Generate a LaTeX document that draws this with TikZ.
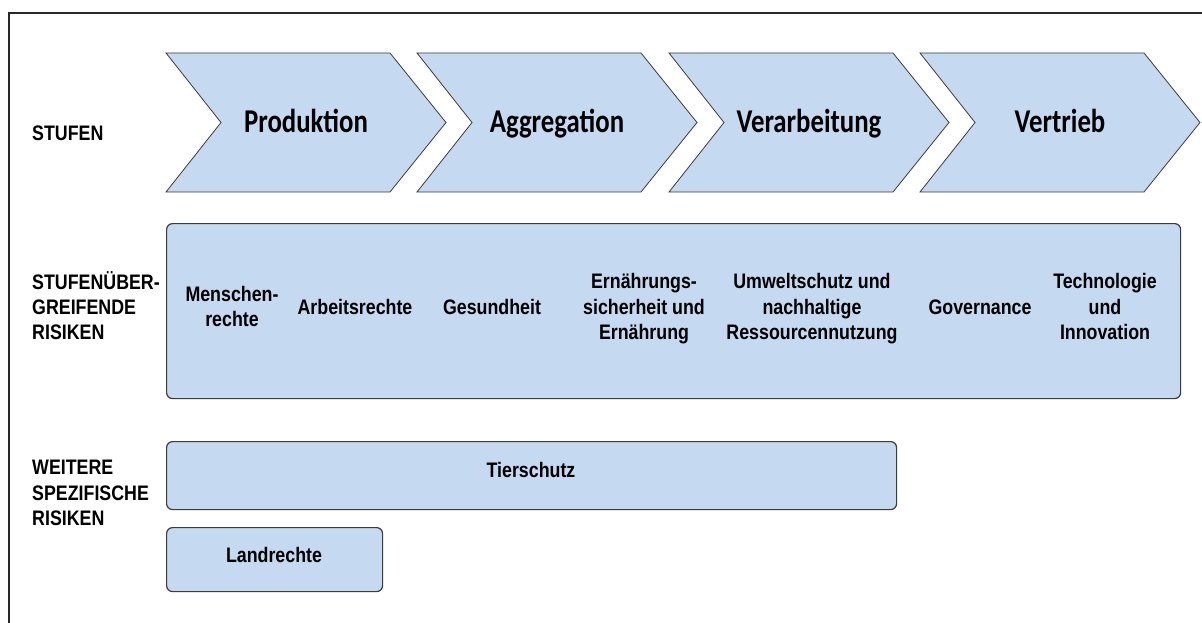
\documentclass[tikz,border=0pt]{standalone}
\usepackage{fontspec}
\usepackage{graphicx}
\newfontfamily\arfont{Liberation Sans}
\newfontfamily\cafont{Carlito}
\definecolor{boxblue}{RGB}{197,217,240}
\definecolor{edgegray}{RGB}{60,60,60}
\definecolor{framegray}{RGB}{40,40,40}
\newcommand{\artext}[1]{\scalebox{1}[1.18]{\arfont\bfseries\fontsize{17.8}{21.2}\selectfont\begin{tabular}{@{}c@{}}#1\end{tabular}}}
\newcommand{\arlabel}[1]{\scalebox{1}[1.18]{\arfont\bfseries\fontsize{17.8}{21.2}\selectfont\begin{tabular}{@{}l@{}}#1\end{tabular}}}
\newcommand{\catext}[1]{\scalebox{1}[1.24]{\cafont\bfseries\fontsize{26.8}{32}\selectfont #1}}
\tikzset{
  chev/.style={fill=boxblue, draw=edgegray, line width=0.8pt, line join=miter},
  riskbox/.style={draw=edgegray, fill=boxblue, line width=1.2pt, rounded corners=6pt, inner sep=0pt, anchor=north west},
  lbl/.style={anchor=west, inner sep=0pt},
  itm/.style={inner sep=0pt},
  frameline/.style={draw=framegray, line width=1.6pt}
}
\begin{document}
\begin{tikzpicture}[x=1pt,y=-1pt]
\useasboundingbox (0,0) rectangle (1202,623);
\clip (0,0) rectangle (1202,623);
\fill[white] (0,0) rectangle (1202,623);
\draw[frameline] (9,13) rectangle (1230,650);

% row labels
\node[lbl] (lstufen) at (32,135) {\arlabel{STUFEN}};
\node[lbl] (lueber) at (32,309) {\arlabel{STUFENÜBER-\\GREIFENDE\\RISIKEN}};
\node[lbl] (lweitere) at (32,495) {\arlabel{WEITERE\\SPEZIFISCHE\\RISIKEN}};

% chevrons
\foreach \L/\nm/\txt in {166/prod/Produktion, 417/aggr/Aggregation, 669/verarb/Verarbeitung, 920/vertr/Vertrieb}{
  \draw[chev] (\L,53) -- (\L+224,53) -- (\L+280,122.5) -- (\L+224,192) -- (\L,192) -- (\L+55,122.5) -- cycle;
  \node[itm, anchor=base] (\nm) at (\L+140,132) {\catext{\txt}};
}

% cross-stage risks
\node[riskbox, minimum width=1014pt, minimum height=175pt] (ue) at (166,223) {};
\node[itm] (mr) at (232,309) {\artext{Menschen-\\rechte}};
\node[itm] (ar) at (355,309) {\artext{Arbeitsrechte}};
\node[itm] (ge) at (492,309) {\artext{Gesundheit}};
\node[itm] (er) at (644,309) {\artext{Ernährungs-\\sicherheit und\\Ernährung}};
\node[itm] (um) at (812,309) {\artext{Umweltschutz und\\nachhaltige\\Ressourcennutzung}};
\node[itm] (go) at (980,309) {\artext{Governance}};
\node[itm] (te) at (1105,309) {\artext{Technologie\\und\\Innovation}};

% specific risks
\node[riskbox, minimum width=730pt, minimum height=68pt] (tier) at (166,441) {};
\node[itm] (tiert) at (531,472) {\artext{Tierschutz}};
\node[riskbox, minimum width=216pt, minimum height=64pt] (land) at (166,527) {};
\node[itm] (landt) at (274,557) {\artext{Landrechte}};
\end{tikzpicture}
\end{document}
